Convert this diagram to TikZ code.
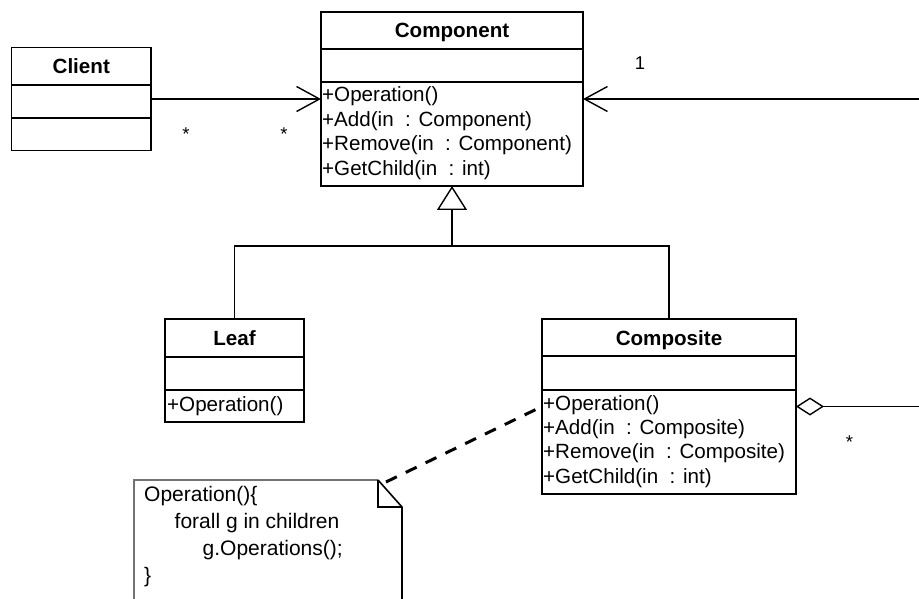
\documentclass[tikz,border=0pt]{standalone}
\usepackage{fontspec}
\setmainfont{Liberation Sans}
\usetikzlibrary{arrows.meta}

\begin{document}
\begin{tikzpicture}[x=1pt,y=-1pt,
  umlbox/.style={draw, line width=1.8pt, rectangle, inner sep=0pt, outer sep=0pt},
  divider/.style={line width=1.8pt},
  classname/.style={font=\fontsize{20.6}{24}\selectfont\bfseries, anchor=base, inner sep=0pt},
  member/.style={font=\fontsize{20.6}{24}\selectfont, anchor=base west, inner sep=0pt},
  notetext/.style={font=\fontsize{21}{27}\selectfont, anchor=base west, inner sep=0pt},
  mult/.style={font=\fontsize{18.5}{20}\selectfont, anchor=base, inner sep=0pt},
  link/.style={line width=1.4pt},
  navarrow/.style={link, -{Straight Barb[length=23pt,width=25pt]}},
  inherit/.style={link, -{Triangle[open,length=24pt,width=30pt]}},
  aggregate/.style={link, {Diamond[open,length=28pt,width=18pt]}-},
  anchorline/.style={line width=3pt, dash pattern=on 12pt off 10pt},
]
\useasboundingbox (0,0) rectangle (919,599);

% ---- class boxes ----
\node[umlbox, minimum width=139.5pt, minimum height=103pt] (client) at (81.25,99) {};
\node[umlbox, minimum width=262pt, minimum height=174pt] (comp) at (452,99) {};
\node[umlbox, minimum width=139pt, minimum height=103pt] (leaf) at (234.5,370.5) {};
\node[umlbox, minimum width=254pt, minimum height=175pt] (composite) at (669,406.5) {};

% compartments
\draw[divider] (client.west |- 0,85) -- (client.east |- 0,85);
\draw[divider] (client.west |- 0,118) -- (client.east |- 0,118);
\draw[divider] (comp.west |- 0,49) -- (comp.east |- 0,49);
\draw[divider] (comp.west |- 0,82) -- (comp.east |- 0,82);
\draw[divider] (leaf.west |- 0,357) -- (leaf.east |- 0,357);
\draw[divider] (leaf.west |- 0,390) -- (leaf.east |- 0,390);
\draw[divider] (composite.west |- 0,356) -- (composite.east |- 0,356);
\draw[divider] (composite.west |- 0,390) -- (composite.east |- 0,390);

% class names
\node[classname] (clientname) at (81.25,73.3) {Client};
\node[classname] (compname) at (452,37.5) {Component};
\node[classname] (leafname) at (234.5,345) {Leaf};
\node[classname] (compositename) at (669,345) {Composite};

% operations
\node[member] (compop1) at (322,102) {+Operation()};
\node[member] (compop2) at (322,126.4) {+Add(in~~: Component)};
\node[member] (compop3) at (322,150.8) {+Remove(in~~: Component)};
\node[member] (compop4) at (322,175.2) {+GetChild(in~~: int)};

\node[member] (leafop1) at (167,411.5) {+Operation()};

\node[member] (compositeop1) at (543,410) {+Operation()};
\node[member] (compositeop2) at (543,434.4) {+Add(in~~: Composite)};
\node[member] (compositeop3) at (543,458.8) {+Remove(in~~: Composite)};
\node[member] (compositeop4) at (543,483.2) {+GetChild(in~~: int)};

% ---- relations ----
\draw[navarrow] (client.east) -- (comp.west);
\coordinate (navend) at (919,99);
\draw[navarrow] (navend) -- (comp.east);

\coordinate (aggend) at (919,406.5);
\draw[aggregate] (composite.east) -- (aggend);

\coordinate (hierarchy) at (452,246);
\draw[inherit] (hierarchy) -- (comp.south);
\draw[link] (leaf.north) |- (hierarchy) -| (composite.north);

% multiplicities
\node[mult] (multclient) at (186,140.5) {*};
\node[mult] (multcomp) at (284,140.5) {*};
\node[mult] (multparent) at (640,70) {1};
\node[mult] (multchild) at (849.5,448) {*};

% ---- note ----
\draw[line width=1.5pt, draw=black!55] (134,599) -- (134,480) -- (378,480);
\draw[line width=1.6pt] (378,480) -- (402,507) -- (402,599);
\draw[line width=1.6pt] (378,480) -- (378,507) -- (402,507);

\node[notetext] (note1) at (144,501) {Operation()\{};
\node[notetext] (note2) at (174.5,528) {forall g in children};
\node[notetext] (note3) at (202.5,555) {g.Operations();};
\node[notetext] (note4) at (144,582) {\}};

\coordinate (notelink) at (386,482);
\draw[anchorline] (notelink) -- (composite.west);
\end{tikzpicture}
\end{document}
